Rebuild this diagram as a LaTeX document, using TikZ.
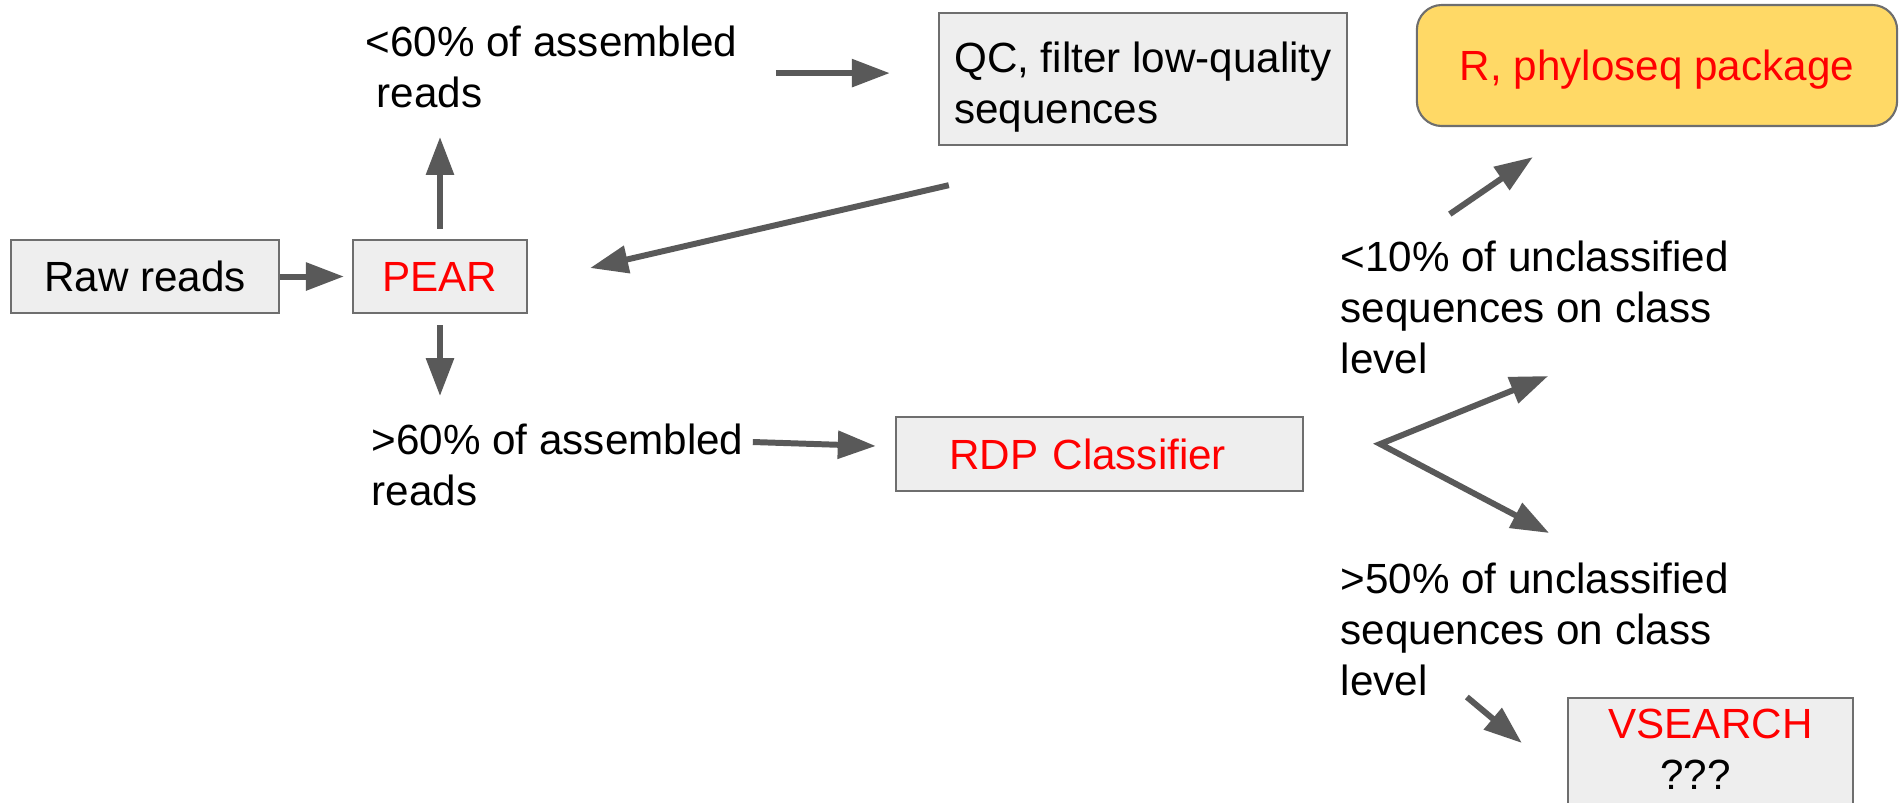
\documentclass[tikz,border=0pt]{standalone}
\usepackage{fontspec}
\setmainfont{Liberation Sans}
\usetikzlibrary{arrows.meta,positioning,calc}
\definecolor{boxgris}{RGB}{238,238,238}
\definecolor{bordgris}{RGB}{110,110,110}
\definecolor{arrgris}{RGB}{89,89,89}
\definecolor{pkgjaune}{RGB}{255,217,102}
\definecolor{toolred}{RGB}{255,0,0}
\tikzset{
  stepbox/.style={
    rectangle, draw=bordgris, fill=boxgris, line width=0.6pt,
    inner sep=0pt, minimum height=0.73cm, align=center
  },
  pkgbox/.style={
    rectangle, rounded corners=0.25cm, draw=bordgris, fill=pkgjaune,
    line width=0.6pt, inner sep=0pt, text=toolred
  },
  condtext/.style={align=left, inner sep=0pt, anchor=base west},
  flowarr/.style={-{Triangle[length=3.8mm,width=2.7mm]}, line width=1.7pt, arrgris},
  forkarr/.style={{Triangle[length=3.8mm,width=2.7mm]}-{Triangle[length=3.8mm,width=2.7mm]},
    line width=1.7pt, arrgris}
}
\begin{document}
\begin{tikzpicture}[x=0.01cm, y=-0.01cm, font=\fontsize{12}{14.5}\selectfont]
  \useasboundingbox (0,0) rectangle (1899,802);
  \clip (0,0) rectangle (1899,802);
  % boxes
  \node[stepbox, minimum width=2.68cm] (raw) at (145,276.5) {Raw reads};
  \node[stepbox, minimum width=1.74cm, text=toolred] (pear) at (440,276.5) {PEAR};
  \node[stepbox, anchor=north, minimum width=4.08cm, text height=1.1cm, text depth=0.22cm, align=left] (qc) at (1143,12) {QC, filter low-quality\\sequences};
  \node[pkgbox, minimum width=4.8cm, minimum height=1.21cm, text depth=0pt] (rpkg) at (1657,65.5) {R, phyloseq package};
  \node[stepbox, minimum height=0.74cm, text width=3.0cm, inner xsep=0.535cm, align=left, text=toolred] (rdp) at (1099.5,454) {RDP Classifier};
  \node[stepbox, anchor=north, minimum width=2.85cm, inner ysep=0.11cm, text depth=0.6cm] (vsearch) at (1710.5,697) {\textcolor{toolred}{VSEARCH}\\???\hspace*{0.3cm}};
  % conditions (anchored on the last line)
  \node[condtext] (lt60) at (365,107) {<60\% of assembled\\\hspace*{0.11cm}reads};
  \node[condtext] (gt60) at (371,505) {>60\% of assembled\\reads};
  \node[condtext] (lt10) at (1340,373) {<10\% of unclassified\\sequences on class\\level};
  \node[condtext] (gt50) at (1340,695) {>50\% of unclassified\\sequences on class\\level};
  % arrows
  \draw[flowarr, shorten >=0.08cm] (raw) -- (pear);
  \draw[flowarr] ($(pear.north)+(0,-10)$) -- ($(pear.north)+(0,-102)$);
  \draw[flowarr] ($(pear.south)+(0,11)$) -- ($(pear.south)+(0,82)$);
  \draw[flowarr] ($(qc.west)+(-162,-6)$) -- ($(qc.west)+(-48,-6)$);
  \draw[flowarr] ($(qc.south west)+(11,39)$) -- ($(pear.east)+(62,-8.5)$);
  \draw[flowarr] ($(rdp.west)+(-142,-12)$) -- ($(rdp.west)+(-19,-8)$);
  \draw[forkarr] ($(rdp.east)+(244,-78)$) -- ($(rdp.east)+(76,-10)$) -- ($(rdp.east)+(245,79)$);
  \draw[flowarr] ($(rpkg.south west)+(34,87)$) -- ($(rpkg.south west)+(117,30)$);
  \draw[flowarr] ($(vsearch.north west)+(-100,0)$) -- ($(vsearch.north west)+(-45,46)$);
\end{tikzpicture}
\end{document}
